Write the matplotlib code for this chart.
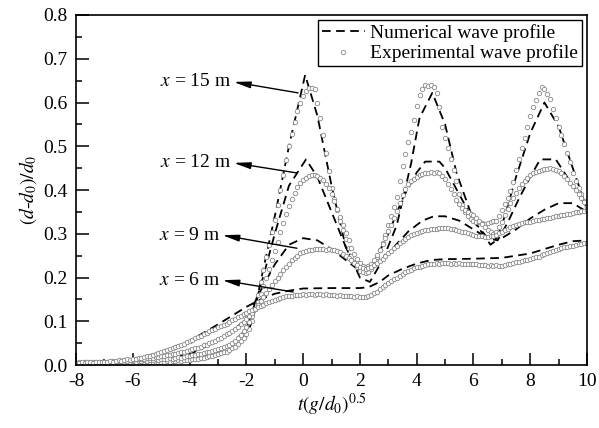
import numpy as np
import matplotlib
matplotlib.use("Agg")
import matplotlib.pyplot as plt
from matplotlib.ticker import MultipleLocator, FormatStrFormatter

plt.rcParams['font.family'] = ['Liberation Serif', 'DejaVu Serif']
plt.rcParams['mathtext.fontset'] = 'stix'
plt.rcParams['axes.unicode_minus'] = False

# ---- numerical wave profiles (dashed) ----
n15_t = [-8, -6, -5, -4, -3, -2.5, -2, -1.75, -1.5, -1, -0.5, 0.07, 0.5, 1.0, 1.5, 2.0,
         2.35, 2.8, 3.3, 3.8, 4.1, 4.55, 5.0, 5.4, 6.0, 6.6, 6.8, 7.1, 7.5, 8.0, 8.5,
         9.0, 9.5, 10]
n15_v = [0.000, 0.003, 0.006, 0.010, 0.022, 0.036, 0.065, 0.11, 0.19, 0.34, 0.50, 0.663,
         0.57, 0.41, 0.27, 0.20, 0.19, 0.24, 0.32, 0.46, 0.565, 0.622, 0.55, 0.44, 0.33,
         0.275, 0.285, 0.34, 0.43, 0.53, 0.60, 0.545, 0.45, 0.355]

n12_t = [-8, -6, -5, -4, -3, -2.5, -2, -1.5, -1, -0.5, 0.1, 0.5, 1.0, 1.5, 2.0, 2.2,
         2.5, 3.0, 3.5, 4.0, 4.3, 4.8, 5.0, 5.5, 6.0, 6.5, 6.85, 7.2, 7.6, 8.0, 8.35,
         8.9, 9.5, 10]
n12_v = [0.002, 0.005, 0.009, 0.015, 0.030, 0.050, 0.082, 0.18, 0.30, 0.41, 0.47, 0.43,
         0.35, 0.27, 0.21, 0.205, 0.235, 0.30, 0.38, 0.44, 0.465, 0.465, 0.45, 0.39,
         0.33, 0.29, 0.285, 0.325, 0.38, 0.43, 0.47, 0.47, 0.41, 0.36]

n9_t = [-8, -6, -5, -4, -3, -2.5, -2, -1.5, -1, -0.5, 0, 0.5, 1.0, 1.5, 2.0, 2.3, 2.7,
        3.2, 3.7, 4.2, 4.6, 5.0, 5.5, 6.0, 6.5, 7.0, 7.5, 8.0, 8.5, 9.0, 9.5, 10]
n9_v = [0.003, 0.008, 0.014, 0.025, 0.055, 0.078, 0.105, 0.17, 0.23, 0.275, 0.29, 0.285,
        0.265, 0.24, 0.215, 0.21, 0.235, 0.27, 0.305, 0.33, 0.34, 0.34, 0.33, 0.31,
        0.29, 0.29, 0.31, 0.335, 0.355, 0.37, 0.37, 0.35]

n6_t = [-8, -7, -6, -5, -4, -3, -2, -1.5, -1, -0.5, 0, 1, 2, 2.3, 2.7, 3.0, 3.5, 4.0,
        4.5, 5, 6, 7, 7.5, 8, 8.5, 9, 9.5, 10]
n6_v = [0.004, 0.007, 0.012, 0.03, 0.055, 0.093, 0.133, 0.15, 0.163, 0.17, 0.175, 0.176,
        0.176, 0.178, 0.19, 0.205, 0.22, 0.232, 0.24, 0.242, 0.243, 0.245, 0.25, 0.255,
        0.265, 0.275, 0.283, 0.285]

# ---- experimental wave profiles (gauge samples every 0.1) ----
t_exp = np.round(np.arange(-8.0, 10.0001, 0.1), 1)

e15 = [
    0.003, 0.004, 0.003, 0.005, 0.004, 0.004, 0.005, 0.003, 0.004, 0.005,
    0.004, 0.005, 0.004, 0.006, 0.005, 0.004, 0.006, 0.005, 0.006, 0.005,
    0.005, 0.006, 0.005, 0.007, 0.006, 0.007, 0.006, 0.008, 0.007, 0.008,
    0.008, 0.007, 0.009, 0.008, 0.010, 0.009, 0.011, 0.010, 0.012, 0.011,
    0.012, 0.013, 0.013, 0.015, 0.016, 0.017, 0.018, 0.020, 0.021, 0.023,
    0.025, 0.027, 0.029, 0.031, 0.034, 0.038, 0.042, 0.048, 0.055, 0.062,
    0.070, 0.082, 0.100, 0.128, 0.160, 0.190, 0.218, 0.246, 0.275, 0.303,
    0.332, 0.366, 0.400, 0.434, 0.468, 0.500, 0.528, 0.556, 0.580, 0.600,
    0.615, 0.626, 0.634, 0.633, 0.630, 0.600, 0.565, 0.525, 0.485, 0.443,
    0.405, 0.380, 0.355, 0.330, 0.308, 0.288, 0.268, 0.250, 0.236, 0.225,
    0.215, 0.212, 0.210, 0.213, 0.220, 0.232, 0.246, 0.262, 0.280, 0.298,
    0.320, 0.340, 0.362, 0.385, 0.420, 0.455, 0.482, 0.510, 0.532, 0.560,
    0.592, 0.618, 0.630, 0.640, 0.637, 0.641, 0.635, 0.622, 0.590, 0.545,
    0.518, 0.495, 0.470, 0.445, 0.420, 0.390, 0.365, 0.350, 0.340, 0.333,
    0.330, 0.328, 0.326, 0.325, 0.323, 0.325, 0.327, 0.329, 0.330, 0.340,
    0.355, 0.368, 0.382, 0.398, 0.418, 0.445, 0.470, 0.495, 0.520, 0.545,
    0.570, 0.590, 0.605, 0.622, 0.636, 0.632, 0.620, 0.608, 0.585, 0.565,
    0.545, 0.525, 0.505, 0.485, 0.465, 0.440, 0.420, 0.405, 0.390, 0.375,
    0.362]

e12 = [
    0.004, 0.005, 0.004, 0.006, 0.005, 0.005, 0.006, 0.004, 0.005, 0.006,
    0.005, 0.006, 0.006, 0.007, 0.006, 0.007, 0.008, 0.007, 0.008, 0.008,
    0.009, 0.008, 0.010, 0.009, 0.011, 0.010, 0.012, 0.011, 0.013, 0.012,
    0.013, 0.014, 0.014, 0.016, 0.015, 0.017, 0.018, 0.017, 0.019, 0.020,
    0.021, 0.022, 0.023, 0.025, 0.026, 0.027, 0.029, 0.031, 0.032, 0.034,
    0.036, 0.038, 0.041, 0.044, 0.047, 0.051, 0.056, 0.062, 0.069, 0.077,
    0.086, 0.098, 0.112, 0.128, 0.145, 0.162, 0.180, 0.200, 0.220, 0.240,
    0.260, 0.282, 0.304, 0.325, 0.345, 0.363, 0.380, 0.394, 0.406, 0.415,
    0.422, 0.428, 0.432, 0.435, 0.434, 0.432, 0.428, 0.422, 0.414, 0.404,
    0.390, 0.374, 0.356, 0.338, 0.320, 0.302, 0.285, 0.268, 0.254, 0.242,
    0.233, 0.227, 0.224, 0.226, 0.232, 0.241, 0.252, 0.264, 0.277, 0.291,
    0.306, 0.320, 0.336, 0.352, 0.370, 0.388, 0.402, 0.413, 0.420, 0.426,
    0.430, 0.434, 0.436, 0.438, 0.440, 0.441, 0.440, 0.441, 0.438, 0.433,
    0.425, 0.414, 0.402, 0.390, 0.378, 0.368, 0.360, 0.354, 0.350, 0.346,
    0.342, 0.336, 0.330, 0.323, 0.315, 0.308, 0.303, 0.300, 0.305, 0.315,
    0.328, 0.342, 0.356, 0.370, 0.382, 0.394, 0.404, 0.413, 0.421, 0.428,
    0.434, 0.438, 0.442, 0.444, 0.446, 0.448, 0.449, 0.450, 0.448, 0.446,
    0.443, 0.438, 0.432, 0.425, 0.417, 0.409, 0.400, 0.391, 0.382, 0.372,
    0.362]

e9 = [
    0.005, 0.006, 0.005, 0.007, 0.006, 0.006, 0.007, 0.006, 0.007, 0.008,
    0.007, 0.008, 0.008, 0.009, 0.008, 0.010, 0.009, 0.011, 0.010, 0.012,
    0.012, 0.013, 0.013, 0.015, 0.014, 0.016, 0.017, 0.016, 0.018, 0.019,
    0.020, 0.021, 0.022, 0.024, 0.025, 0.026, 0.028, 0.029, 0.031, 0.033,
    0.034, 0.036, 0.038, 0.040, 0.042, 0.045, 0.047, 0.050, 0.053, 0.056,
    0.059, 0.062, 0.066, 0.070, 0.074, 0.078, 0.083, 0.088, 0.093, 0.099,
    0.105, 0.112, 0.120, 0.128, 0.137, 0.146, 0.155, 0.164, 0.173, 0.182,
    0.191, 0.200, 0.209, 0.217, 0.225, 0.232, 0.239, 0.245, 0.250, 0.255,
    0.258, 0.261, 0.263, 0.264, 0.265, 0.266, 0.265, 0.266, 0.264, 0.265,
    0.264, 0.263, 0.261, 0.258, 0.254, 0.249, 0.244, 0.239, 0.234, 0.229,
    0.225, 0.222, 0.220, 0.221, 0.224, 0.228, 0.233, 0.238, 0.243, 0.249,
    0.255, 0.261, 0.267, 0.273, 0.279, 0.284, 0.289, 0.293, 0.297, 0.300,
    0.302, 0.304, 0.306, 0.308, 0.309, 0.310, 0.311, 0.312, 0.313, 0.313,
    0.314, 0.313, 0.312, 0.311, 0.309, 0.307, 0.305, 0.303, 0.301, 0.299,
    0.298, 0.296, 0.295, 0.294, 0.293, 0.293, 0.294, 0.296, 0.298, 0.301,
    0.304, 0.308, 0.312, 0.315, 0.318, 0.320, 0.322, 0.324, 0.326, 0.327,
    0.328, 0.329, 0.331, 0.332, 0.333, 0.334, 0.336, 0.337, 0.338, 0.340,
    0.341, 0.342, 0.344, 0.345, 0.346, 0.348, 0.349, 0.350, 0.352, 0.353,
    0.355]

e6 = [
    0.005, 0.004, 0.006, 0.005, 0.007, 0.006, 0.005, 0.007, 0.008, 0.006,
    0.007, 0.008, 0.009, 0.008, 0.010, 0.011, 0.010, 0.012, 0.013, 0.012,
    0.014, 0.015, 0.016, 0.017, 0.018, 0.020, 0.021, 0.023, 0.025, 0.027,
    0.030, 0.032, 0.034, 0.036, 0.039, 0.041, 0.044, 0.046, 0.049, 0.052,
    0.055, 0.058, 0.061, 0.064, 0.067, 0.070, 0.073, 0.077, 0.080, 0.083,
    0.086, 0.089, 0.092, 0.095, 0.098, 0.102, 0.105, 0.109, 0.113, 0.117,
    0.120, 0.123, 0.126, 0.129, 0.132, 0.135, 0.138, 0.141, 0.144, 0.147,
    0.149, 0.151, 0.153, 0.155, 0.157, 0.158, 0.159, 0.160, 0.161, 0.161,
    0.162, 0.161, 0.163, 0.162, 0.161, 0.163, 0.162, 0.160, 0.162, 0.161,
    0.160, 0.161, 0.159, 0.160, 0.158, 0.159, 0.157, 0.158, 0.156, 0.157,
    0.155, 0.156, 0.155, 0.157, 0.160, 0.164, 0.168, 0.173, 0.178, 0.183,
    0.188, 0.192, 0.196, 0.200, 0.204, 0.208, 0.212, 0.215, 0.218, 0.221,
    0.223, 0.225, 0.227, 0.228, 0.230, 0.231, 0.232, 0.233, 0.232, 0.234,
    0.233, 0.234, 0.232, 0.233, 0.231, 0.233, 0.232, 0.230, 0.232, 0.231,
    0.230, 0.231, 0.229, 0.228, 0.229, 0.227, 0.228, 0.226, 0.228, 0.227,
    0.227, 0.229, 0.230, 0.232, 0.233, 0.235, 0.236, 0.238, 0.239, 0.241,
    0.242, 0.244, 0.246, 0.248, 0.251, 0.253, 0.256, 0.258, 0.261, 0.263,
    0.265, 0.267, 0.269, 0.270, 0.272, 0.273, 0.275, 0.276, 0.277, 0.278,
    0.279]

# ---- gauge labels: (label anchor t, y) and (curve point t, y)
labels = ["15", "12", "9", "6"]
label_xy = [(-2.45, 0.647), (-2.45, 0.462), (-2.85, 0.297), (-2.85, 0.194)]
curve_xy = [(-0.18, 0.622), (-0.22, 0.439), (-0.22, 0.267), (-0.35, 0.167)]

fig = plt.figure(figsize=(5.99, 4.28), dpi=100)
ax = fig.add_axes([0.127, 0.147, 0.853, 0.818])

dash_kw = dict(color='black', lw=1.3, linestyle=(0, (4.8, 3.0)))
ax.plot(n15_t, n15_v, **dash_kw, label='Numerical wave profile')
ax.plot(n12_t, n12_v, **dash_kw)
ax.plot(n9_t, n9_v, **dash_kw)
ax.plot(n6_t, n6_v, **dash_kw)

mk_kw = dict(linestyle='none', marker='o', markersize=3.2, markerfacecolor='white',
             markeredgecolor='#888888', markeredgewidth=0.6)
for i, ser in enumerate([e15, e12, e9, e6]):
    ax.plot(t_exp, ser, **mk_kw,
            label='Experimental wave profile' if i == 0 else None)

for name, (lx, ly), (cx, cy) in zip(labels, label_xy, curve_xy):
    ax.text(lx - 0.08, ly, r'$x$ = ' + name + ' m', ha='right', va='center',
            fontsize=14)
    ax.annotate('', xy=(lx, ly), xytext=(cx, cy),
                arrowprops=dict(arrowstyle='-|>,head_length=1.0,head_width=0.2',
                                color='black', lw=1.0, shrinkA=0, shrinkB=0))

ax.set_xlim(-8, 10)
ax.set_ylim(0, 0.8)
ax.xaxis.set_major_locator(MultipleLocator(2))
ax.xaxis.set_minor_locator(MultipleLocator(1))
ax.yaxis.set_major_locator(MultipleLocator(0.1))
ax.yaxis.set_minor_locator(MultipleLocator(0.05))
ax.yaxis.set_major_formatter(FormatStrFormatter('%.1f'))
ax.tick_params(which='both', direction='in', top=False, right=False, width=1.1,
               labelsize=14, colors='black')
ax.tick_params(which='major', length=9, pad=6)
ax.tick_params(which='minor', length=4.5)
for sp in ax.spines.values():
    sp.set_linewidth(1.2)

ax.set_xlabel(r'$t(g/d_0)^{0.5}$', fontsize=14, labelpad=1)
ax.set_ylabel(r'$(d$-$d_0)/d_0$', fontsize=14, labelpad=3)

leg = ax.legend(loc='upper right', fontsize=14, frameon=True, fancybox=False,
                edgecolor='black', framealpha=1, borderpad=0.2, handlelength=2.2,
                handletextpad=0.3, labelspacing=0.15, borderaxespad=0.25,
                markerscale=1.0)
leg.get_frame().set_linewidth(1.0)

fig.savefig('out.png', dpi=100)
